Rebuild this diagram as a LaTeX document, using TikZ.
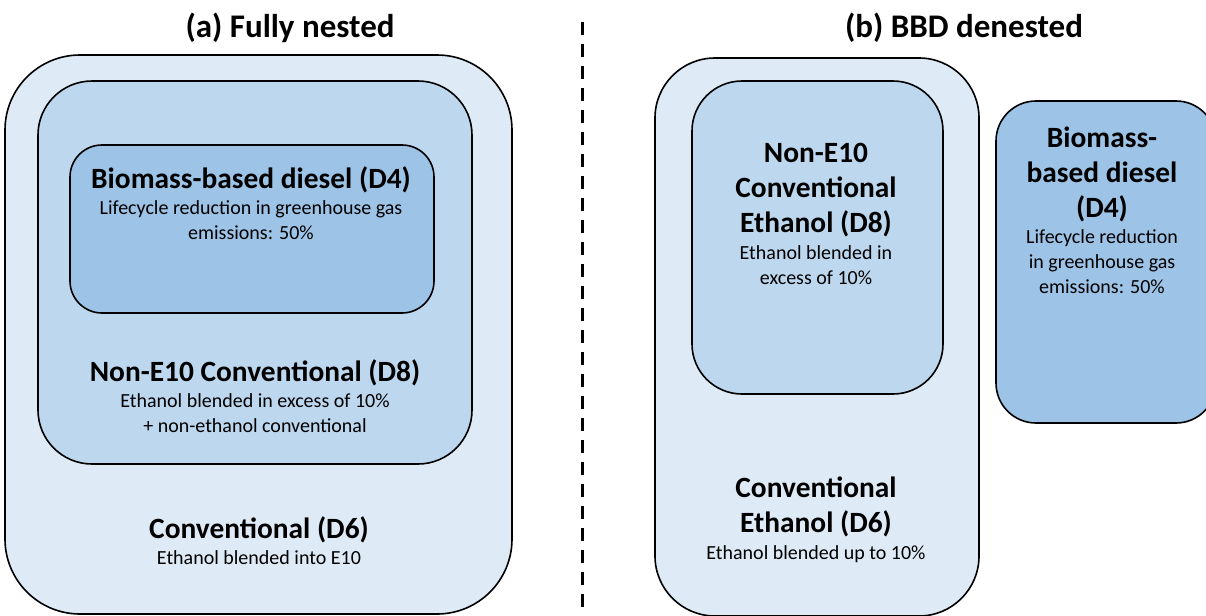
\documentclass[tikz,border=0pt]{standalone}
\usepackage{fontspec}
\setmainfont{Carlito}
\definecolor{paleblue}{HTML}{DEEBF7}
\definecolor{midblue}{HTML}{BDD7EE}
\definecolor{deepblue}{HTML}{9DC3E6}

\begin{document}
\begin{tikzpicture}[x=0.5pt,y=-0.5pt,
    box/.style={draw=black,line width=0.8pt},
    paneltitle/.style={font=\fontsize{16.5}{19}\selectfont\bfseries},
    head/.style={font=\fontsize{14.7}{17.5}\selectfont\bfseries,align=center,inner sep=0pt},
    note/.style={font=\fontsize{10}{12.5}\selectfont,align=center,inner sep=0pt}]
    \useasboundingbox (0,0) rectangle (1206,616);
    % (a) fully nested
    \draw[box,fill=paleblue,rounded corners=37.5pt] (5,55) rectangle (512,614);
    \draw[box,fill=midblue,rounded corners=27pt] (38,81) rectangle (472,464);
    \draw[box,fill=deepblue,rounded corners=16pt] (70,145) rectangle (434,313);
    \node[paneltitle] (ta) at (290,28) {(a) Fully nested};
    \node[head] (a4) at (251,180) {Biomass-based diesel (D4)};
    \node[note] (a4n) at (251,220.5) {Lifecycle reduction in greenhouse gas\\emissions: 50\%};
    \node[head] (a8) at (255,373) {Non-E10 Conventional (D8)};
    \node[note] (a8n) at (255,413.5) {Ethanol blended in excess of 10\%\\+ non-ethanol conventional};
    \node[head] (a6) at (259,530) {Conventional (D6)};
    \node[note] (a6n) at (259,558) {Ethanol blended into E10};
    % divider
    \coordinate (septop) at (582,22);
    \coordinate (sepbot) at (582,616);
    \draw[line width=1.5pt,dash pattern=on 6.5pt off 4.5pt] (septop) -- (sepbot);
    % (b) BBD denested
    \draw[box,fill=paleblue,rounded corners=30pt] (655,58) rectangle (979,616);
    \draw[box,fill=midblue,rounded corners=25pt] (692,81) rectangle (943,394);
    \draw[box,fill=deepblue,rounded corners=20pt] (996,101) rectangle (1216,423);
    \node[paneltitle] (tb) at (964,28) {(b) BBD denested};
    \node[head] (b8) at (816,190) {Non-E10\\Conventional\\Ethanol (D8)};
    \node[note] (b8n) at (816,265.5) {Ethanol blended in\\excess of 10\%};
    \node[head] (b6) at (816,506.5) {Conventional\\Ethanol (D6)};
    \node[note] (b6n) at (816,554) {Ethanol blended up to 10\%};
    \node[head] (b4) at (1102,174.5) {Biomass-\\based diesel\\(D4)};
    \node[note] (b4n) at (1102,262) {Lifecycle reduction\\in greenhouse gas\\emissions: 50\%};
\end{tikzpicture}
\end{document}
